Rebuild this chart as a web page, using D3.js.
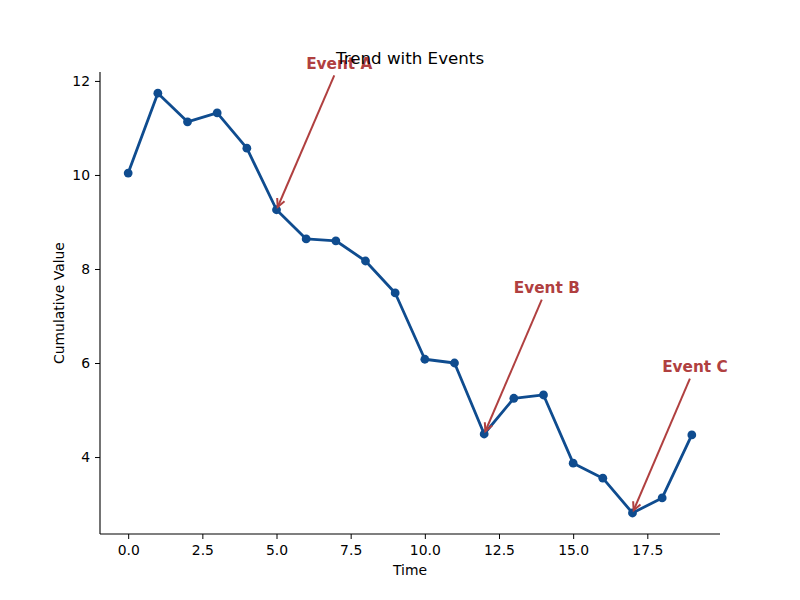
<!DOCTYPE html>
<html>
<head>
<meta charset="utf-8">
<script src="https://cdn.jsdelivr.net/npm/d3@7"></script>
<style>
  body { margin: 0; background: #fff; }
  text { font-family: "DejaVu Sans", sans-serif; }
</style>
</head>
<body>
<svg id="chart" width="800" height="600"></svg>
<script>
const steps = [0, 1, 2, 3, 4, 5, 6, 7, 8, 9, 10, 11, 12, 13, 14, 15, 16, 17, 18, 19];
const values = [10.04, 11.74, 11.13, 11.32, 10.57, 9.26, 8.64, 8.60, 8.17, 7.49,
  6.08, 6.00, 4.49, 5.25, 5.32, 3.87, 3.55, 2.81, 3.13, 4.47];
const eventLabels = ['Event A', 'Event B', 'Event C'];
const eventIndex = [5, 12, 17];
const xTicks = [0, 2.5, 5, 7.5, 10, 12.5, 15, 17.5];
const yTicks = [4, 6, 8, 10, 12];

const lineColor = '#0f4c8f';
const eventColor = '#b04040';
const margin = { left: 100, right: 80, top: 72, bottom: 66 };
const width = 800;
const height = 600;

const svg = d3.select('#chart');

const x = d3.scaleLinear()
  .domain([-0.95, 19.95])
  .range([margin.left, width - margin.right]);

const y = d3.scaleLinear()
  .domain([2.363, 12.19])
  .range([height - margin.bottom, margin.top]);

// axes
const xAxis = svg.append('g')
  .attr('transform', `translate(0,${height - margin.bottom})`)
  .call(d3.axisBottom(x).tickValues(xTicks).tickFormat(d3.format('.1f')).tickSize(5).tickPadding(6));

const yAxis = svg.append('g')
  .attr('transform', `translate(${margin.left},0)`)
  .call(d3.axisLeft(y).tickValues(yTicks).tickFormat(d3.format('d')).tickSize(5).tickPadding(5));

[xAxis, yAxis].forEach((g) => {
  g.selectAll('text').attr('font-size', 13.9).attr('fill', '#000')
    .attr('font-family', '"DejaVu Sans", sans-serif');
  g.selectAll('line').attr('stroke', '#000').attr('stroke-width', 1);
  g.select('.domain').attr('stroke', '#000').attr('stroke-width', 1.1);
});
xAxis.select('.domain').attr('d', `M${margin.left},0H${width - margin.right}`);
yAxis.select('.domain').attr('d', `M0,${margin.top}V${height - margin.bottom}`);

svg.append('text')
  .attr('x', (margin.left + width - margin.right) / 2)
  .attr('y', 575)
  .attr('text-anchor', 'middle')
  .attr('font-size', 13.9)
  .text('Time');

svg.append('text')
  .attr('transform', `translate(64,${(margin.top + height - margin.bottom) / 2}) rotate(-90)`)
  .attr('text-anchor', 'middle')
  .attr('font-size', 13.9)
  .text('Cumulative Value');

// series
const line = d3.line()
  .x((d, i) => x(steps[i]))
  .y((d) => y(d));

svg.append('path')
  .datum(values)
  .attr('d', line)
  .attr('fill', 'none')
  .attr('stroke', lineColor)
  .attr('stroke-width', 2.8)
  .attr('stroke-linejoin', 'round');

svg.append('g')
  .selectAll('circle')
  .data(values)
  .join('circle')
  .attr('cx', (d, i) => x(steps[i]))
  .attr('cy', (d) => y(d))
  .attr('r', 4.4)
  .attr('fill', lineColor);

// event annotations, text placed at (i + 1, value + 3)
const notes = svg.append('g');
eventLabels.forEach((label, k) => {
  const idx = eventIndex[k];
  const tx = x(steps[idx] + 1);
  const ty = y(values[idx] + 3);
  const px = x(steps[idx]);
  const py = y(values[idx]);

  const t = notes.append('text')
    .attr('x', tx)
    .attr('y', ty)
    .attr('font-size', 15.3)
    .attr('font-weight', 'bold')
    .attr('fill', eventColor)
    .text(label);

  const bb = t.node().getBBox();
  const cx = bb.x + bb.width / 2;
  const cy = bb.y + bb.height / 2;
  const dx = px - cx;
  const dy = py - cy;
  const len = Math.hypot(dx, dy);
  const ux = dx / len;
  const uy = dy / len;
  // leave the text box, then shrink by 2pt at both ends
  const tBox = Math.min(Math.abs((bb.height / 2) / uy), Math.abs((bb.width / 2) / (ux || 1e-6)));
  const sx = cx + ux * (tBox + 3);
  const sy = cy + uy * (tBox + 3);
  const ex = px - ux * 3;
  const ey = py - uy * 3;

  notes.append('line')
    .attr('x1', sx).attr('y1', sy)
    .attr('x2', ex).attr('y2', ey)
    .attr('stroke', eventColor)
    .attr('stroke-width', 2);

  const hl = 8;
  const hw = 4;
  const bx = ex - ux * hl;
  const by = ey - uy * hl;
  notes.append('path')
    .attr('d', `M${bx - uy * hw},${by + ux * hw}L${ex},${ey}L${bx + uy * hw},${by - ux * hw}`)
    .attr('fill', 'none')
    .attr('stroke', eventColor)
    .attr('stroke-width', 2);
});

svg.append('text')
  .attr('x', (margin.left + width - margin.right) / 2)
  .attr('y', 64)
  .attr('text-anchor', 'middle')
  .attr('font-size', 16.7)
  .text('Trend with Events');
</script>
</body>
</html>
